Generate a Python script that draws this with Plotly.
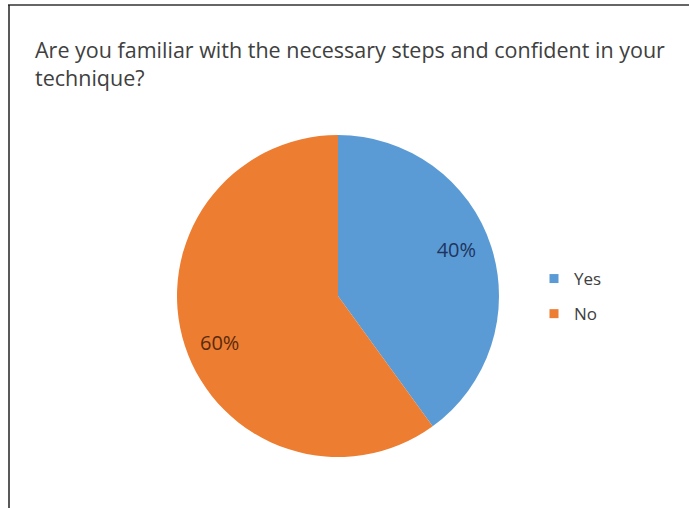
import plotly.graph_objects as go

categories = ["Yes", "No"]
values = [40, 60]
colors = ["#5B9BD5", "#ED7D31"]
label_colors = ["#1F3560", "#5A2A0C"]
title_text = "Are you familiar with the necessary steps and confident in your<br>technique?"

W, H = 689, 508
cx, cy, r = 338, 296, 161  # pixel geometry of the pie

dom = dict(x=[(cx - r) / W, (cx + r) / W],
           y=[(H - cy - r) / H, (H - cy + r) / H])

fig = go.Figure()
# main pie (colours)
fig.add_trace(go.Pie(
    labels=categories, values=values, sort=False,
    direction="clockwise", rotation=0,
    marker=dict(colors=colors, line=dict(width=0)),
    textinfo="none", domain=dom, showlegend=False,
    hoverinfo="label+percent",
))
# transparent ring carrying the percent labels further out
fig.add_trace(go.Pie(
    labels=categories, values=values, sort=False,
    direction="clockwise", rotation=-3.5, hole=0.58,
    marker=dict(colors=["rgba(0,0,0,0)"] * len(values), line=dict(width=0)),
    texttemplate="%{percent:.0%}", textposition="inside",
    insidetextorientation="horizontal",
    textfont=dict(family="Open Sans", size=20, color=label_colors),
    domain=dom, showlegend=False, hoverinfo="skip",
))
# legend entries
for i, (cat, col) in enumerate(zip(categories, colors)):
    fig.add_trace(go.Scatter(
        x=[None], y=[None], mode="markers", name=cat,
        marker=dict(symbol="square", size=9, color=col),
        legendgroup=cat, showlegend=True,
    ))

fig.update_layout(
    width=W, height=H,
    margin=dict(l=0, r=0, t=0, b=0),
    paper_bgcolor="white",
    plot_bgcolor="white",
    xaxis=dict(visible=False), yaxis=dict(visible=False),
    title=dict(
        text=title_text,
        x=35 / W, xanchor="left",
        y=1 - 58 / H, yanchor="top",
        font=dict(family="Open Sans", size=21.5, color="#404040"),
    ),
    legend=dict(
        x=534 / W, xanchor="left",
        y=1 - 261 / H, yanchor="top",
        font=dict(family="Open Sans", size=17, color="#404040"),
        itemwidth=30, tracegroupgap=10,
    ),
    shapes=[
        dict(type="line", xref="paper", yref="paper",
             x0=8 / W, x1=1, y0=1 - 5 / H, y1=1 - 5 / H,
             line=dict(color="#333333", width=1.5)),
        dict(type="line", xref="paper", yref="paper",
             x0=9 / W, x1=9 / W, y0=0, y1=1 - 5 / H,
             line=dict(color="#222222", width=1.5)),
    ],
)

fig.write_html("out.html", config={"displayModeBar": False},
               post_script="document.body.style.margin='0';")
